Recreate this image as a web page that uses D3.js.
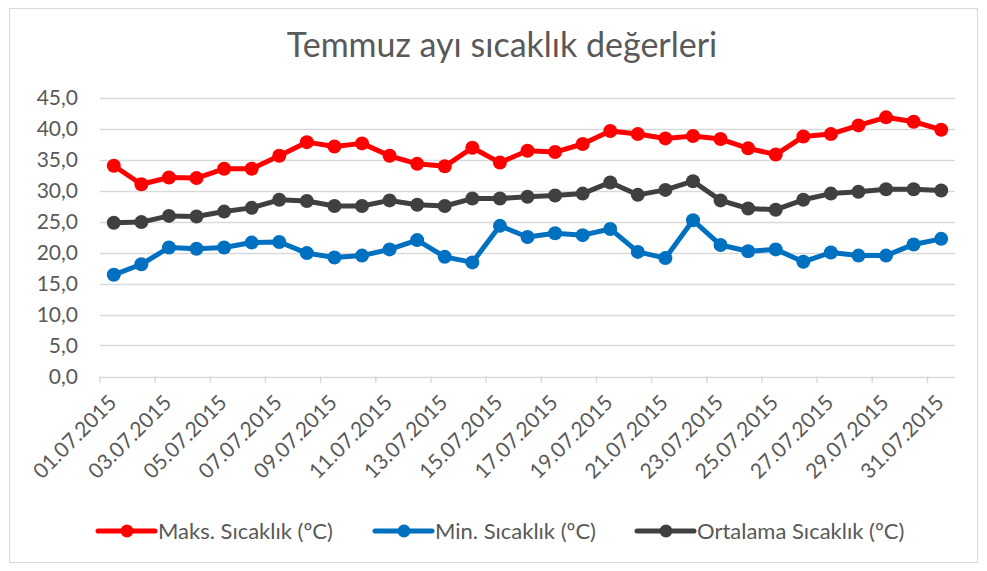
<!DOCTYPE html>
<html lang="tr">
<head>
<meta charset="utf-8" />
<title>Temmuz ayı sıcaklık değerleri</title>
<script src="https://cdn.jsdelivr.net/npm/d3@7"></script>
<style>
  body { margin: 0; background: #fff; }
  text { font-family: Lato, "Open Sans", sans-serif; fill: #595959; }
</style>
</head>
<body>
<script>
// data
var days = ["01.07.2015","02.07.2015","03.07.2015","04.07.2015","05.07.2015","06.07.2015","07.07.2015",
            "08.07.2015","09.07.2015","10.07.2015","11.07.2015","12.07.2015","13.07.2015","14.07.2015",
            "15.07.2015","16.07.2015","17.07.2015","18.07.2015","19.07.2015","20.07.2015","21.07.2015",
            "22.07.2015","23.07.2015","24.07.2015","25.07.2015","26.07.2015","27.07.2015","28.07.2015",
            "29.07.2015","30.07.2015","31.07.2015"];
var maxTemp = [34.0,31.0,32.1,32.0,33.5,33.5,35.6,37.8,37.1,37.6,35.6,34.3,33.9,36.9,34.5,36.4,36.2,37.5,
               39.6,39.1,38.4,38.8,38.3,36.8,35.8,38.7,39.1,40.5,41.8,41.1,39.8];
var minTemp = [16.4,18.1,20.8,20.6,20.8,21.6,21.7,19.9,19.2,19.5,20.5,22.0,19.3,18.4,24.3,22.5,23.1,22.8,
               23.8,20.1,19.1,25.2,21.2,20.2,20.5,18.5,20.0,19.5,19.5,21.3,22.2];
var avgTemp = [24.8,24.9,25.9,25.8,26.6,27.2,28.5,28.3,27.5,27.5,28.4,27.7,27.5,28.7,28.7,29.0,29.2,29.5,
               31.3,29.3,30.1,31.5,28.4,27.1,26.9,28.5,29.5,29.8,30.2,30.2,30.0];
var yTicks = [0,5,10,15,20,25,30,35,40,45];
var seriesNames = ["Maks. Sıcaklık (ºC)", "Min. Sıcaklık (ºC)", "Ortalama Sıcaklık (ºC)"];
var seriesColors = ["#ff0000", "#0070c0", "#404040"];

var w = 987, h = 571;
var svg = d3.select("body").append("svg").attr("width", w).attr("height", h);

// chart frame
svg.append("rect")
    .attr("x", 9.5).attr("y", 8.5)
    .attr("width", 968).attr("height", 554)
    .attr("fill", "#fff").attr("stroke", "#d9d9d9");

var xScale = d3.scaleBand().domain(days).range([100, 955]).padding(0);
var yScale = d3.scaleLinear().domain([0, 45]).range([376.5, 97.5]);

// title
svg.append("text")
    .attr("x", 502).attr("y", 57)
    .attr("text-anchor", "middle")
    .attr("font-size", "34px")
    .text("Temmuz ayı sıcaklık değerleri");

// gridlines
svg.selectAll("line.grid")
    .data(yTicks)
    .enter()
    .append("line")
    .attr("class", "grid")
    .attr("x1", 100).attr("x2", 955)
    .attr("y1", function(d) { return Math.round(yScale(d)) + 0.5; })
    .attr("y2", function(d) { return Math.round(yScale(d)) + 0.5; })
    .attr("stroke", "#d9d9d9")
    .attr("stroke-width", 1.5);

// y labels
svg.selectAll("text.ylab")
    .data(yTicks)
    .enter()
    .append("text")
    .attr("class", "ylab")
    .attr("x", 78)
    .attr("y", function(d) { return yScale(d) + 7; })
    .attr("text-anchor", "end")
    .attr("font-size", "21px")
    .text(function(d) { return d3.format(".1f")(d).replace(".", ","); });

// x ticks every second day, on band edges
var tickIdx = d3.range(0, 32, 2);
svg.selectAll("line.xtick")
    .data(tickIdx)
    .enter()
    .append("line")
    .attr("class", "xtick")
    .attr("x1", function(i) { return 100 + i * xScale.bandwidth(); })
    .attr("x2", function(i) { return 100 + i * xScale.bandwidth(); })
    .attr("y1", 376.5).attr("y2", 383)
    .attr("stroke", "#d9d9d9")
    .attr("stroke-width", 1.5);

var labelDays = days.filter(function(d, i) { return i % 2 === 0; });
svg.selectAll("text.xlab")
    .data(labelDays)
    .enter()
    .append("text")
    .attr("class", "xlab")
    .attr("text-anchor", "end")
    .attr("font-size", "21px")
    .attr("transform", function(d) {
        var x = xScale(d) + xScale.bandwidth() / 2 + 4;
        return "translate(" + x + ",404) rotate(-45)";
    })
    .text(function(d) { return d; });

// series
var allSeries = [maxTemp, minTemp, avgTemp];
var line = d3.line()
    .x(function(d, i) { return xScale(days[i]) + xScale.bandwidth() / 2; })
    .y(function(d) { return yScale(d); });

allSeries.forEach(function(values, s) {
    svg.append("path")
        .datum(values)
        .attr("d", line)
        .attr("fill", "none")
        .attr("stroke", seriesColors[s])
        .attr("stroke-width", 5)
        .attr("stroke-linejoin", "round");
    svg.selectAll("circle.s" + s)
        .data(values)
        .enter()
        .append("circle")
        .attr("class", "s" + s)
        .attr("cx", function(d, i) { return xScale(days[i]) + xScale.bandwidth() / 2; })
        .attr("cy", function(d) { return yScale(d); })
        .attr("r", 7)
        .attr("fill", seriesColors[s]);
});

// legend
var legendX = [98, 375, 637];
var legend = svg.selectAll("g.legend")
    .data(seriesNames)
    .enter()
    .append("g")
    .attr("class", "legend")
    .attr("transform", function(d, i) { return "translate(" + legendX[i] + ",531)"; });
legend.append("line")
    .attr("x1", 0).attr("x2", 57)
    .attr("stroke", function(d, i) { return seriesColors[i]; })
    .attr("stroke-width", 5)
    .attr("stroke-linecap", "round");
legend.append("circle")
    .attr("cx", 29).attr("r", 6.5)
    .attr("fill", function(d, i) { return seriesColors[i]; });
legend.append("text")
    .attr("x", 60).attr("y", 8)
    .attr("font-size", "22px")
    .text(function(d) { return d; });
</script>
</body>
</html>
